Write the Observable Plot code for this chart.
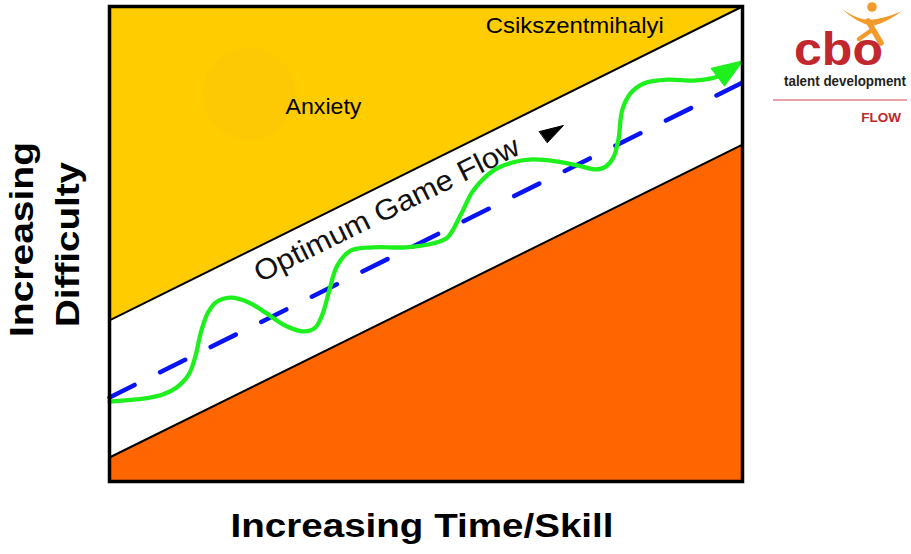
<!DOCTYPE html>
<html>
<head>
<meta charset="utf-8">
<script src="https://cdn.jsdelivr.net/npm/d3@7"></script>
<script src="https://cdn.jsdelivr.net/npm/@observablehq/plot@0.6"></script>
<style>
  html, body { margin: 0; padding: 0; background: #fff; }
  #chart { position: relative; width: 911px; height: 554px; }
</style>
</head>
<body>
<div id="chart"></div>
<script>
// ---- data (conceptual units: Time/Skill 0–10, Difficulty 0–10) ----
const skill = [0, 10];
const anxietyEdge = [3.39, 10];      // lower edge of the Anxiety zone
const boredomEdge = [0.505, 7.09];   // upper edge of the lower zone
const flowCentre = [1.77, 8.40];     // dashed optimum line

const gameX = [0, 0.25, 0.57, 0.84, 1.06, 1.25, 1.36, 1.44, 1.55, 1.68, 1.91, 2.20, 2.46, 2.78, 3.07, 3.25, 3.37, 3.46, 3.60, 3.81, 4.16, 4.68, 5.10, 5.34, 5.55, 5.75, 6.07, 6.38, 6.68, 7.05, 7.41, 7.68, 7.84, 7.96, 8.04, 8.10, 8.23, 8.44, 8.82, 9.23, 9.49, 9.62];
const gameY = [1.68, 1.71, 1.75, 1.83, 1.98, 2.25, 2.65, 3.12, 3.54, 3.77, 3.87, 3.77, 3.56, 3.28, 3.16, 3.24, 3.54, 3.96, 4.55, 4.86, 4.93, 4.93, 5.01, 5.14, 5.62, 6.13, 6.55, 6.72, 6.78, 6.74, 6.65, 6.57, 6.63, 6.82, 7.20, 7.82, 8.17, 8.38, 8.46, 8.44, 8.48, 8.53];

const arrowX = [9.51, 9.995, 9.716];
const arrowY = [8.695, 8.848, 8.337];
const markerX = [6.793, 7.172, 6.919];
const markerY = [7.368, 7.495, 7.137];

const zoneLabels = ["Anxiety", "Csikszentmihalyi"];
const zoneX = [3.38, 7.35];
const zoneY = [7.73, 9.45];
const flowLabel = "Optimum Game Flow";
const flowLabelX = 4.38, flowLabelY = 5.72;
const xLabel = "Increasing Time/Skill";
const yLabelLines = ["Increasing", "Difficulty"];
const blobX = [2.2], blobY = [8.17];

// ---- tables ----
const band = skill.map((x, i) => ({x, anx: anxietyEdge[i], bor: boredomEdge[i], flow: flowCentre[i]}));
const game = gameX.map((x, i) => ({x, y: gameY[i]}));
const arrow = arrowX.map((x, i) => ({x, y: arrowY[i]}));
const marker = markerX.map((x, i) => ({x, y: markerY[i]}));
const zones = zoneLabels.map((t, i) => ({t, x: zoneX[i], y: zoneY[i]}));
const blob = blobX.map((x, i) => ({x, y: blobY[i]}));

const FONT = "Liberation Sans, Arial, Helvetica, sans-serif";
const GREEN = "#1ef01e";

const chart = Plot.plot({
  width: 911,
  height: 554,
  marginLeft: 109,
  marginRight: 169,
  marginTop: 6,
  marginBottom: 73,
  x: {domain: [0, 10], axis: null},
  y: {domain: [0, 10], axis: null},
  style: {background: "white", fontFamily: FONT},
  marks: [
    Plot.areaY(band, {x: "x", y1: "anx", y2: () => 10, fill: "#ffcc00"}),
    Plot.areaY(band, {x: "x", y1: () => 0, y2: "bor", fill: "#ff6600"}),
    Plot.dot(blob, {x: "x", y: "y", r: 46, fill: "#f2b818", fillOpacity: 0.15, stroke: "none"}),
    Plot.line(band, {x: "x", y: "anx", stroke: "black", strokeWidth: 2}),
    Plot.line(band, {x: "x", y: "bor", stroke: "black", strokeWidth: 2}),
    Plot.line(band, {x: "x", y: "flow", stroke: "#0a14f2", strokeWidth: 4.5, strokeDasharray: "28,28.5", strokeLinecap: "round"}),
    Plot.line(game, {x: "x", y: "y", curve: "catmull-rom", stroke: GREEN, strokeWidth: 4.3, strokeLinecap: "round"}),
    Plot.line(arrow, {x: "x", y: "y", curve: "linear-closed", fill: GREEN, stroke: GREEN, strokeWidth: 1.5, strokeLinejoin: "round"}),
    Plot.line(marker, {x: "x", y: "y", curve: "linear-closed", fill: "black", stroke: "black", strokeWidth: 1}),
    Plot.text(zones, {x: "x", y: "y", text: "t", fontSize: 22, fill: "black", lineAnchor: "bottom", fontFamily: FONT}),
    Plot.text([flowLabel], {x: () => flowLabelX, y: () => flowLabelY, text: d => d, fontSize: 29, rotate: -26.3, fill: "#111", fontFamily: FONT}),
    Plot.frame({stroke: "black", strokeWidth: 3.5}),
    Plot.text([xLabel], {frameAnchor: "bottom", lineAnchor: "bottom", dy: 55, dx: -4, text: d => d, fontSize: 32.5, fontWeight: "bold", fill: "black", fontFamily: FONT}),
    Plot.text([yLabelLines[0]], {frameAnchor: "left", textAnchor: "middle", lineAnchor: "bottom", rotate: -90, dx: -76.5, dy: -4.5, text: d => d, fontSize: 33, fontWeight: "bold", fill: "black", fontFamily: FONT}),
    Plot.text([yLabelLines[1]], {frameAnchor: "left", textAnchor: "middle", lineAnchor: "bottom", rotate: -90, dx: -30.5, dy: 0.5, text: d => d, fontSize: 33, fontWeight: "bold", fill: "black", fontFamily: FONT})
  ]
});

// stretch text to the widths seen in the reference
const lengths = {
  "Anxiety": 76,
  "Csikszentmihalyi": 178,
  "Optimum Game Flow": 292,
  "Increasing Time/Skill": 383,
  "Increasing": 195,
  "Difficulty": 165
};
d3.select(chart).selectAll("text").each(function () {
  const t = this.textContent;
  if (lengths[t]) {
    this.setAttribute("textLength", lengths[t]);
    this.setAttribute("lengthAdjust", "spacingAndGlyphs");
  }
});

// logo (decoration in the right margin)
const logo = d3.select(chart).append("g").attr("class", "logo").attr("text-anchor", "start");
const ORANGE = "#f39a2c";
logo.append("circle").attr("cx", 872).attr("cy", 7).attr("r", 4.8).attr("fill", ORANGE);
logo.append("path").attr("d", "M842,9 Q858,20 869,20 Q884,19 902,11 Q886,23 872,26 Q857,23 842,9 Z").attr("fill", ORANGE);
logo.append("path").attr("d", "M868,21 L881,43").attr("stroke", ORANGE).attr("stroke-width", 5.5).attr("stroke-linecap", "round");
logo.append("path").attr("d", "M872,30 L859,39").attr("stroke", ORANGE).attr("stroke-width", 4.5).attr("stroke-linecap", "round");
logo.append("text").attr("x", 794).attr("y", 65).attr("font-family", FONT).attr("font-weight", "bold")
  .attr("font-size", 46).attr("fill", "#c1272d").attr("textLength", 89).attr("lengthAdjust", "spacingAndGlyphs").text("cbo");
logo.append("text").attr("x", 845).attr("y", 86).attr("text-anchor", "middle").attr("font-family", FONT).attr("font-weight", "bold")
  .attr("font-size", 14).attr("fill", "#231f20").attr("textLength", 122).attr("lengthAdjust", "spacingAndGlyphs").text("talent development");
logo.append("line").attr("x1", 773).attr("x2", 907).attr("y1", 100).attr("y2", 100).attr("stroke", "#d04450").attr("stroke-width", 1.2);
logo.append("text").attr("x", 901).attr("y", 122).attr("text-anchor", "end").attr("font-family", FONT).attr("font-weight", "bold")
  .attr("font-size", 13.5).attr("fill", "#c1272d").text("FLOW");

document.getElementById("chart").appendChild(chart);
</script>
</body>
</html>
